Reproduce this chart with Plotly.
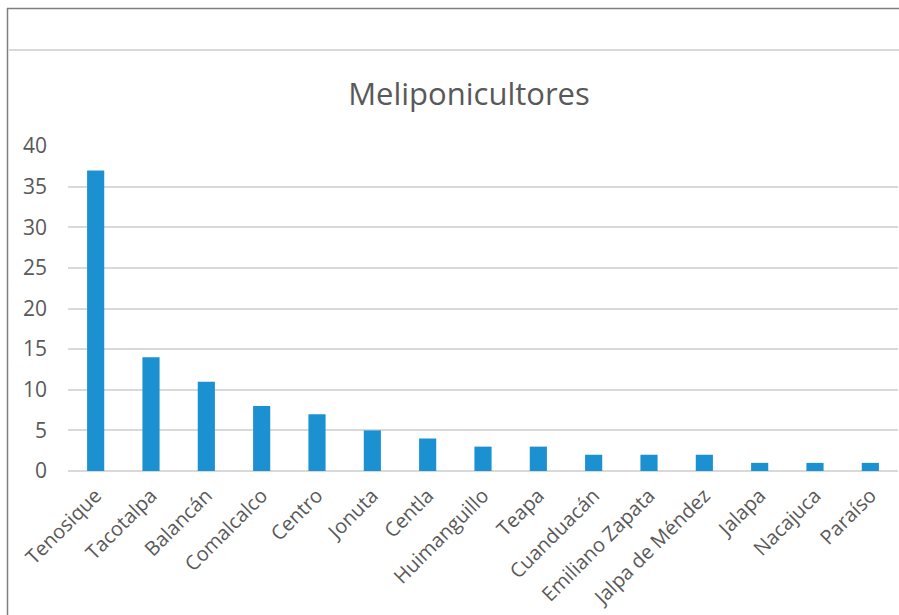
import plotly.graph_objects as go

municipios = ["Tenosique", "Tacotalpa", "Balancán", "Comalcalco", "Centro", "Jonuta",
              "Centla", "Huimanguillo", "Teapa", "Cuanduacán", "Emiliano Zapata",
              "Jalpa de Méndez", "Jalapa", "Nacajuca", "Paraíso"]
meliponicultores = [37, 14, 11, 8, 7, 5, 4, 3, 3, 2, 2, 2, 1, 1, 1]
y_ticks = [0, 5, 10, 15, 20, 25, 30, 35, 40]

W, H = 899, 615
L, R, T, B = 68, 1, 146, 144
pw, ph = W - L - R, H - T - B

def px(x):
    return (x - L) / pw

def py(y):
    return (H - B - y) / ph

fig = go.Figure(go.Bar(
    x=municipios, y=meliponicultores,
    marker=dict(color="#1b91d1", line=dict(width=0)),
))

fig.update_layout(
    width=W, height=H,
    margin=dict(l=L, r=R, t=T, b=B),
    paper_bgcolor="white", plot_bgcolor="white",
    bargap=0.69,
    showlegend=False,
    font=dict(family="Open Sans", color="#595959"),
    title=dict(text="Meliponicultores", x=469 / W, xanchor="center", xref="container",
               y=1 - 94 / H, yanchor="middle",
               font=dict(size=31, color="#595959", family="Open Sans")),
    xaxis=dict(tickangle=-45, tickfont=dict(size=20, color="#595959"),
               showgrid=False, showline=False, ticks="", ticklabelstandoff=8),
    yaxis=dict(range=[0, 40], tickvals=y_ticks, tickfont=dict(size=21, color="#595959"),
               showgrid=True, gridcolor="#d9d9d9", gridwidth=1.5,
               zeroline=True, zerolinecolor="#d9d9d9", zerolinewidth=1.5,
               showline=False, ticks="", ticklabelstandoff=20),
    shapes=[
        dict(type="line", xref="paper", yref="paper", x0=px(7), x1=px(900),
             y0=py(8.5), y1=py(8.5), line=dict(color="#7f7f7f", width=1.5)),
        dict(type="line", xref="paper", yref="paper", x0=px(7.5), x1=px(7.5),
             y0=py(8), y1=py(616), line=dict(color="#7f7f7f", width=1.5)),
        dict(type="line", xref="paper", yref="paper", x0=px(8), x1=px(900),
             y0=py(50), y1=py(50), line=dict(color="#d9d9d9", width=2)),
    ],
)

fig.write_html("out.html")
